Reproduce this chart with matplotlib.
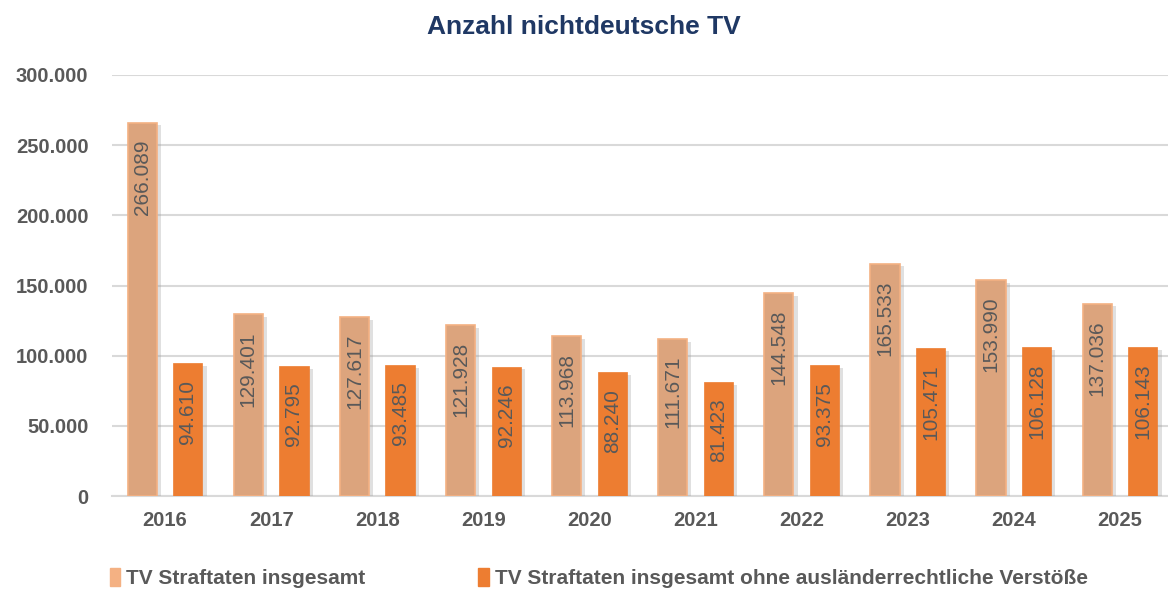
import numpy as np
import matplotlib.pyplot as plt
import matplotlib.patheffects as pe
from matplotlib.patches import Patch

plt.rcParams["font.family"] = ["Liberation Sans", "DejaVu Sans"]

# Daten
years = ["2016", "2017", "2018", "2019", "2020", "2021", "2022", "2023", "2024", "2025"]
tv_gesamt = [266089, 129401, 127617, 121928, 113968, 111671, 144548, 165533, 153990, 137036]
tv_ohne_auslr = [94610, 92795, 93485, 92246, 88240, 81423, 93375, 105471, 106128, 106143]
series_names = ["TV Straftaten insgesamt",
                "TV Straftaten insgesamt ohne ausländerrechtliche Verstöße"]
yticks = [0, 50000, 100000, 150000, 200000, 250000, 300000]

GREY = "#595959"
LIGHT = "#DCA47D"
LIGHT_EDGE = "#F4B183"
DARK = "#ED7D31"


def fmt(v):
    return f"{v:,}".replace(",", ".")


fig = plt.figure(figsize=(11.68, 5.91), dpi=100)
ax = fig.add_axes([112 / 1168, 95 / 591, 1061 / 1168, 421 / 591])

x = np.arange(len(years))
w = 0.275
off = 0.215
shadow = [pe.SimplePatchShadow(offset=(3, -2), shadow_rgbFace="#999999", alpha=0.3), pe.Normal()]

b1 = ax.bar(x - off, tv_gesamt, w, color=LIGHT, edgecolor=LIGHT_EDGE, linewidth=1.2, zorder=3)
b2 = ax.bar(x + off, tv_ohne_auslr, w, color=DARK, edgecolor=DARK, linewidth=0.5, zorder=3)
for b in list(b1) + list(b2):
    b.set_path_effects(shadow)

# Werte in den Balken
for bars in (b1, b2):
    for bar in bars:
        h = bar.get_height()
        ax.annotate(fmt(int(h)), (bar.get_x() + bar.get_width() / 2, h),
                    xytext=(0, -12), textcoords="offset points",
                    rotation=90, ha="center", va="top",
                    fontsize=15, color=GREY, zorder=4)

ax.set_xlim(-0.5, len(years) - 0.5)
ax.set_ylim(0, 300000)
ax.set_yticks(yticks)
ax.set_yticklabels([fmt(v) for v in yticks], fontsize=14.5, fontweight="bold", color=GREY)
ax.set_xticks(x)
ax.set_xticklabels(years, fontsize=14.5, fontweight="bold", color=GREY)
ax.tick_params(axis="both", length=0)
ax.tick_params(axis="y", pad=17)
ax.tick_params(axis="x", pad=11)

ax.grid(axis="y", color="#D9D9D9", linewidth=1.5, zorder=0)
for s in ["top", "right", "left"]:
    ax.spines[s].set_visible(False)
ax.spines["bottom"].set_color("#D9D9D9")
ax.spines["bottom"].set_linewidth(1.5)

fig.text(0.5, 0.955, "Anzahl nichtdeutsche TV", ha="center", va="center",
         fontsize=19, fontweight="bold", color="#1F3864")

handles = [Patch(facecolor=LIGHT_EDGE, edgecolor=LIGHT_EDGE),
           Patch(facecolor=DARK, edgecolor=DARK)]
leg = fig.legend(handles, series_names, loc="center left", bbox_to_anchor=(0.085, 0.022),
                 ncol=2, frameon=False, handlelength=0.5, handleheight=1.0,
                 handletextpad=0.3, columnspacing=5.4, borderpad=0,
                 prop={"size": 15, "weight": "bold"})
for t in leg.get_texts():
    t.set_color(GREY)

fig.savefig("out.png", dpi=100)
